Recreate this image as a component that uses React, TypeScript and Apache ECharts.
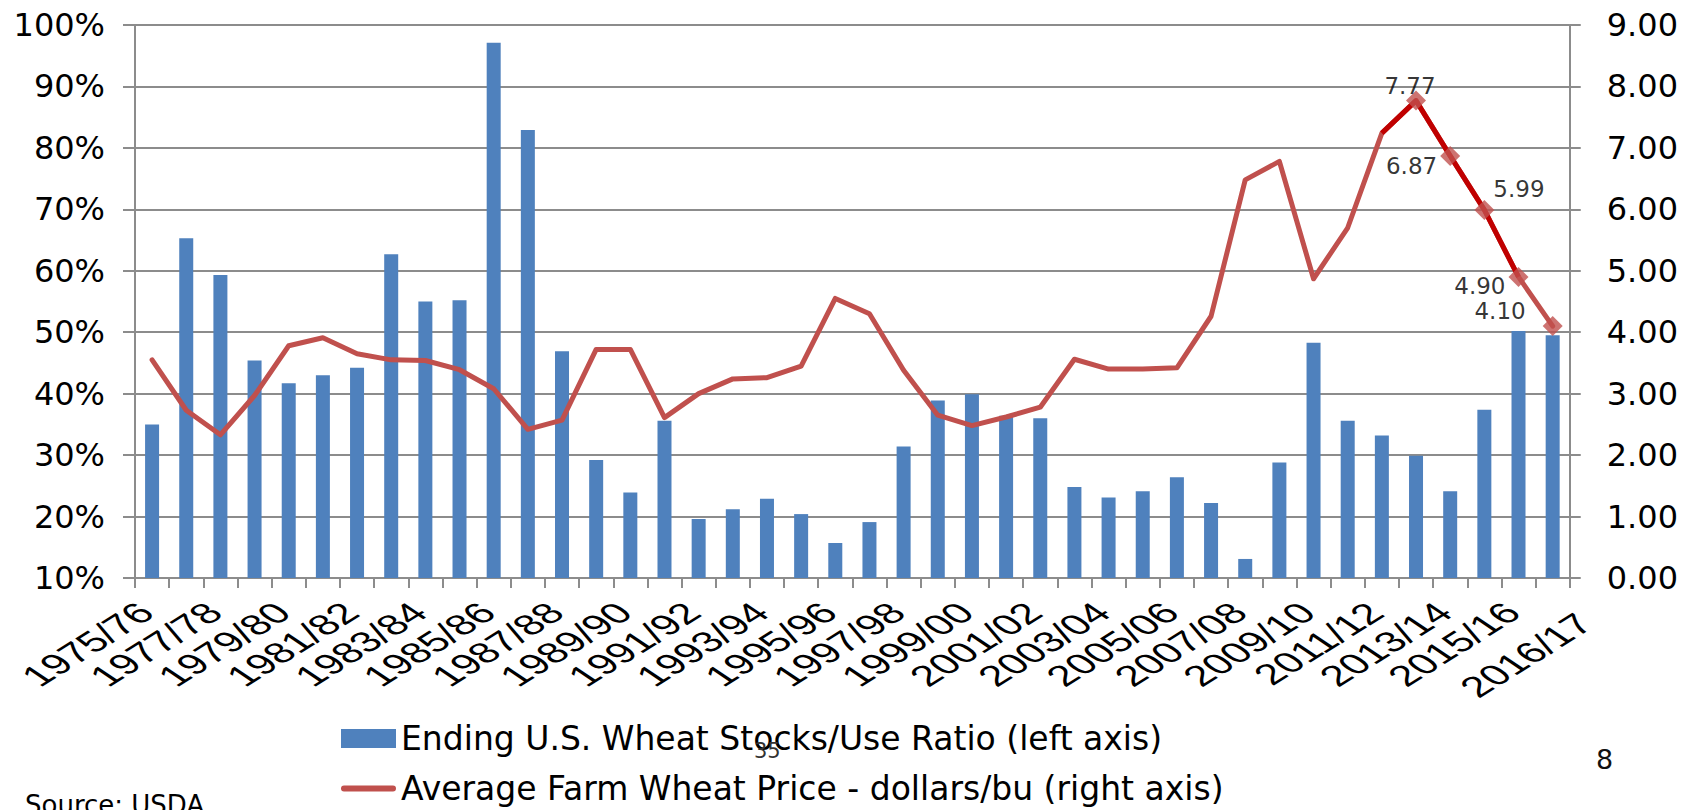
import React, { useEffect, useRef } from "react";
import * as echarts from "echarts";

const categories = [
  "1975/76", "1976/77", "1977/78", "1978/79", "1979/80", "1980/81", "1981/82",
  "1982/83", "1983/84", "1984/85", "1985/86", "1986/87", "1987/88", "1988/89",
  "1989/90", "1990/91", "1991/92", "1992/93", "1993/94", "1994/95", "1995/96",
  "1996/97", "1997/98", "1998/99", "1999/00", "2000/01", "2001/02", "2002/03",
  "2003/04", "2004/05", "2005/06", "2006/07", "2007/08", "2008/09", "2009/10",
  "2010/11", "2011/12", "2012/13", "2013/14", "2014/15", "2015/16", "2016/17",
];

// Ending U.S. wheat stocks/use ratio (%), left axis
const stocksToUse = [
  35.0, 65.3, 59.3, 45.4, 41.7, 43.0, 44.2, 62.7, 55.0, 55.2, 97.1, 82.9, 46.9,
  29.2, 23.9, 35.6, 19.6, 21.2, 22.9, 20.4, 15.7, 19.1, 31.4, 38.9, 39.9, 36.4,
  36.0, 24.8, 23.1, 24.1, 26.4, 22.2, 13.1, 28.8, 48.3, 35.6, 33.2, 29.9, 24.1,
  37.4, 50.2, 49.5,
];

// Average farm wheat price, dollars/bu, right axis
const prices = [
  3.55, 2.73, 2.33, 2.97, 3.78, 3.91, 3.65, 3.55, 3.54, 3.39, 3.08, 2.42, 2.57,
  3.72, 3.72, 2.61, 3.0, 3.24, 3.26, 3.45, 4.55, 4.3, 3.38, 2.65, 2.48, 2.62,
  2.78, 3.56, 3.4, 3.4, 3.42, 4.26, 6.48, 6.78, 4.87, 5.7, 7.24, 7.77, 6.87,
  5.99, 4.9, 4.1,
];

const leftTicks = [10, 20, 30, 40, 50, 60, 70, 80, 90, 100];
const rightTicks = [0, 1, 2, 3, 4, 5, 6, 7, 8, 9];

// highlighted recent period (dark segment) and labelled points
const highlightLineRange = [36, 40];
const labelledRange = [37, 41];

const barName = "Ending U.S. Wheat Stocks/Use Ratio (left axis)";
const lineName = "Average Farm Wheat Price - dollars/bu (right axis)";

const FONT = "'DejaVu Sans', 'Liberation Sans', Arial, sans-serif";
const XFONT = "'Liberation Sans', Arial, sans-serif";
const GRID_COLOR = "#8c8c8c";

const labelPlacement: Record<number, any> = {
  37: { position: "top", distance: 0, offset: [-6, 7] },
  38: { position: "left", distance: 3, offset: [0, 10] },
  39: { position: "right", distance: -1, offset: [0, -21] },
  40: { position: "left", distance: 3, offset: [0, 9] },
  41: { position: "left", distance: 17, offset: [0, -15] },
};

// category-axis label style: rotated text, stretched horizontally
const X_LABEL_ROTATE = 44;
const X_LABEL_STRETCH = 1.55;
const X_LABEL_FONT_SIZE = 29;
const X_LABEL_SHIFT = [-6, 30];
const LAST_LABEL_EXTRA = [38, 11];

export default function App() {
  const ref = useRef<HTMLDivElement>(null);

  useEffect(() => {
    if (!ref.current) return;
    const chart = echarts.init(ref.current, undefined, { renderer: "svg" });

    const highlightData = prices.map((v, i) =>
      i >= highlightLineRange[0] && i <= highlightLineRange[1] ? v : null
    );
    const markerData = prices
      .map((v, i) =>
        i >= labelledRange[0] && i <= labelledRange[1]
          ? { value: [i, v], label: { show: true, ...labelPlacement[i] } }
          : null
      )
      .filter((d) => d !== null);

    const staticGraphics: any[] = [
      {
        type: "text",
        left: 754,
        top: 740,
        style: { text: "35", fontSize: 21, fill: "#333", fontFamily: FONT },
        z: 10,
      },
      {
        type: "text",
        left: 1596,
        top: 746,
        style: { text: "8", fontSize: 27, fill: "#111", fontFamily: FONT },
      },
      {
        type: "text",
        left: 25,
        top: 792,
        style: { text: "Source: USDA", fontSize: 26, fill: "#000", fontFamily: FONT },
      },
    ];

    const option: any = {
      animation: false,
      backgroundColor: "#ffffff",
      textStyle: { fontFamily: FONT },
      grid: { left: 135, right: 111, top: 25, bottom: 232, containLabel: false },
      legend: {
        orient: "vertical",
        left: 341,
        top: 722,
        itemWidth: 55,
        itemHeight: 19,
        itemGap: 17,
        padding: 0,
        textStyle: { fontSize: 33, color: "#000", fontFamily: FONT, lineHeight: 33 },
        data: [
          { name: barName, icon: "rect" },
          {
            name: lineName,
            icon: "path://M3,0 H52 A3,3 0 0 1 52,6 H3 A3,3 0 0 1 3,0 Z",
          },
        ],
      },
      xAxis: {
        type: "category",
        data: categories,
        boundaryGap: true,
        axisLine: { show: true, lineStyle: { color: GRID_COLOR, width: 2 } },
        axisTick: {
          show: true,
          interval: 0,
          alignWithLabel: false,
          length: 10,
          lineStyle: { color: GRID_COLOR, width: 2 },
        },
        axisLabel: { show: false },
        splitLine: { show: false },
      },
      yAxis: [
        {
          type: "value",
          min: leftTicks[0],
          max: leftTicks[leftTicks.length - 1],
          interval: leftTicks[1] - leftTicks[0],
          position: "left",
          axisLine: { show: true, lineStyle: { color: GRID_COLOR, width: 2 } },
          axisTick: { show: true, length: 12, lineStyle: { color: GRID_COLOR, width: 2 } },
          axisLabel: {
            formatter: "{value}%",
            fontSize: 32,
            color: "#000",
            margin: 30,
            fontFamily: FONT,
          },
          splitLine: { show: true, lineStyle: { color: GRID_COLOR, width: 2 } },
        },
        {
          type: "value",
          min: rightTicks[0],
          max: rightTicks[rightTicks.length - 1],
          interval: rightTicks[1] - rightTicks[0],
          position: "right",
          axisLine: { show: true, lineStyle: { color: GRID_COLOR, width: 2 } },
          axisTick: { show: true, length: 11, lineStyle: { color: GRID_COLOR, width: 2 } },
          axisLabel: {
            formatter: (v: number) => v.toFixed(2),
            fontSize: 32,
            color: "#000",
            margin: 37,
            fontFamily: FONT,
          },
          splitLine: { show: false },
        },
      ],
      series: [
        {
          name: barName,
          type: "bar",
          yAxisIndex: 0,
          data: stocksToUse,
          barWidth: 14,
          itemStyle: { color: "#4F81BD" },
          z: 1,
        },
        {
          name: lineName,
          type: "line",
          yAxisIndex: 1,
          data: prices,
          symbol: "none",
          lineStyle: { color: "#C0504D", width: 5, cap: "round", join: "round" },
          itemStyle: { color: "#C0504D" },
          z: 3,
        },
        {
          name: "highlight",
          type: "line",
          yAxisIndex: 1,
          data: highlightData,
          symbol: "none",
          connectNulls: false,
          lineStyle: { color: "#C00000", width: 5, join: "round" },
          itemStyle: { color: "#C00000" },
          z: 4,
        },
        {
          name: "markers",
          type: "scatter",
          yAxisIndex: 1,
          data: markerData,
          symbol: "diamond",
          symbolSize: 20,
          itemStyle: { color: "#C0504D" },
          label: {
            show: true,
            fontSize: 23,
            color: "#000",
            fontFamily: FONT,
            formatter: (p: any) => p.value[1].toFixed(2),
          },
          z: 5,
        },
      ],
      graphic: staticGraphics,
    };

    chart.setOption(option);

    // category labels placed through the chart's own scales
    const axisY = chart.convertToPixel({ yAxisIndex: 0 }, leftTicks[0]) as number;
    const lastIdx = categories.length - 1;
    const labelGraphics = categories
      .map((c, i) => {
        if (!(i % 2 === 0 || i === lastIdx)) return null;
        const cx = chart.convertToPixel({ xAxisIndex: 0 }, c) as number;
        const extra = i === lastIdx ? LAST_LABEL_EXTRA : [0, 0];
        return {
          type: "group",
          x: cx + X_LABEL_SHIFT[0] + extra[0],
          y: axisY + X_LABEL_SHIFT[1] + extra[1],
          scaleX: X_LABEL_STRETCH,
          silent: true,
          children: [
            {
              type: "text",
              x: 0,
              y: 0,
              rotation: (X_LABEL_ROTATE * Math.PI) / 180,
              silent: true,
              style: {
                text: c,
                fontSize: X_LABEL_FONT_SIZE,
                fontFamily: XFONT,
                fill: "#000",
                align: "right",
                verticalAlign: "middle",
              },
            },
          ],
        };
      })
      .filter((g) => g !== null);

    chart.setOption({ graphic: staticGraphics.concat(labelGraphics as any[]) });

    return () => chart.dispose();
  }, []);

  return (
    <div
      ref={ref}
      style={{ position: "fixed", left: 0, top: 0, width: 1681, height: 810, background: "#fff" }}
    />
  );
}
